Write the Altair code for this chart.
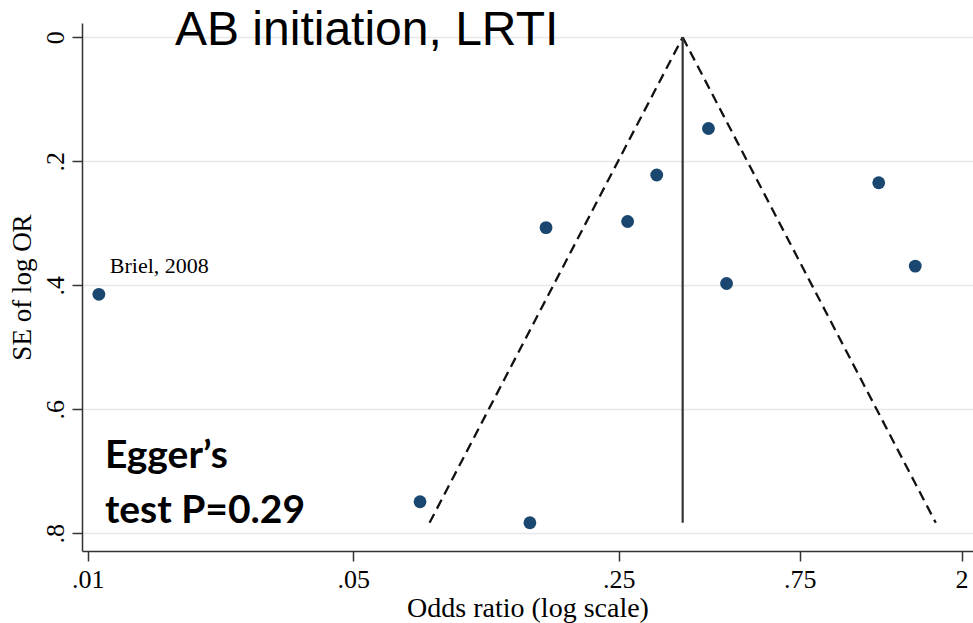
import json
import altair as alt
import numpy as np
import pandas as pd

# ---- data ----
study_label = ["Briel, 2008", "", "", "", "", "", "", "", "", ""]
odds_ratio = [0.0107, 0.0750, 0.146, 0.161, 0.264, 0.315, 0.431, 0.481, 1.21, 1.51]
se_log_or = [0.4145, 0.749, 0.783, 0.307, 0.297, 0.222, 0.147, 0.397, 0.2345, 0.369]

pooled_or = 0.3686
se_max = 0.783
z_crit = 1.96

x_ticks = [0.01, 0.05, 0.25, 0.75, 2]
x_tick_labels = [".01", ".05", ".25", ".75", "2"]
y_ticks = [0, 0.2, 0.4, 0.6, 0.8]
y_tick_labels = ["0", ".2", ".4", ".6", ".8"]
x_domain = [0.00966, 2.143]
y_domain = [-0.0231, 0.8285]

title_text = "AB initiation, LRTI"
egger_lines = ["Egger\u2019s", "test P=0.29"]
egger_x = [0.0111, 0.0111]
egger_se = [0.695, 0.783]

# ---- tables ----
studies = pd.DataFrame({"or": odds_ratio, "se": se_log_or, "label": study_label})

lo = float(np.exp(np.log(pooled_or) - z_crit * se_max))
hi = float(np.exp(np.log(pooled_or) + z_crit * se_max))
funnel = pd.DataFrame({
    "or": [lo, pooled_or, pooled_or, hi],
    "se": [se_max, 0.0, 0.0, se_max],
    "side": ["l", "l", "r", "r"],
    "ord": [0, 1, 0, 1],
})
center = pd.DataFrame({"or": [pooled_or], "se0": [0.0], "se1": [se_max]})
egger = pd.DataFrame({"or": egger_x, "se": egger_se, "t": egger_lines})

serif = "Liberation Serif"
axis_col = "#333333"

x_expr = f"{json.dumps(x_tick_labels)}[indexof({json.dumps(x_ticks)}, datum.value)]"
y_expr = f"{json.dumps(y_tick_labels)}[indexof({json.dumps(y_ticks)}, datum.value)]"

xs = alt.Scale(type="log", domain=x_domain, nice=False, zero=False)
ys = alt.Scale(domain=y_domain, reverse=True, nice=False, zero=False)

x_axis = alt.Axis(
    values=x_ticks, labelExpr=x_expr, title="Odds ratio (log scale)", grid=False,
    tickSize=10, tickColor=axis_col, domainColor=axis_col, tickWidth=1.5, domainWidth=1.5,
    labelFont=serif, labelFontSize=26, labelColor="black", labelPadding=5,
    titleFont=serif, titleFontSize=28, titleFontWeight="normal", titleColor="black",
    titleBaseline="middle", titleY=57, labelFlush=False, labelOverlap=False,
)
y_axis = alt.Axis(
    values=y_ticks, labelExpr=y_expr, title="SE of log OR", grid=True,
    gridColor="#e8e8e8", gridWidth=1.5,
    tickSize=10, tickColor=axis_col, domainColor=axis_col, tickWidth=1.5, domainWidth=1.5,
    labelFont=serif, labelFontSize=26, labelColor="black", labelAngle=270,
    labelAlign="center", labelBaseline="alphabetic", labelPadding=9,
    labelFlush=False, labelOverlap=False,
    titleFont=serif, titleFontSize=27, titleFontWeight="normal", titleColor="black",
    titleAngle=270, titleAlign="center", titleBaseline="middle", titleX=-60, titleY=264,
)

base_x = alt.X("or:Q", scale=xs, axis=x_axis)
base_y = alt.Y("se:Q", scale=ys, axis=y_axis)

funnel_lines = alt.Chart(funnel).mark_line(
    color="#111111", strokeWidth=2.3, strokeDash=[10, 6]
).encode(x=base_x, y=base_y, detail="side:N", order="ord:Q")

center_line = alt.Chart(center).mark_rule(color="#333333", strokeWidth=2.2).encode(
    x=alt.X("or:Q", scale=xs), y=alt.Y("se0:Q", scale=ys), y2="se1:Q"
)

points = alt.Chart(studies).mark_circle(size=165, opacity=1, color="#1a476f").encode(
    x=base_x, y=base_y
)

labels = alt.Chart(studies).mark_text(
    font=serif, fontSize=22, align="left", baseline="alphabetic", dx=11, dy=-21, color="black"
).encode(x=alt.X("or:Q", scale=xs), y=alt.Y("se:Q", scale=ys), text="label:N")

egger_text = alt.Chart(egger).mark_text(
    font="Lato", fontSize=39, fontWeight="bold", align="left", baseline="alphabetic", color="black"
).encode(x=alt.X("or:Q", scale=xs), y=alt.Y("se:Q", scale=ys), text="t:N")

title_mark = alt.Chart(pd.DataFrame({"t": [title_text]})).mark_text(
    font="Liberation Sans", fontSize=48, align="left", baseline="alphabetic", color="black"
).encode(x=alt.value(93), y=alt.value(21.5), text="t:N")

chart = alt.layer(
    funnel_lines, center_line, points, labels, egger_text, title_mark
).properties(
    width=891, height=528,
    autosize=alt.AutoSizeParams(type="none"),
    padding={"left": 82, "top": 23, "right": 0, "bottom": 72},
    background="white",
).configure_view(stroke=None)

chart.save("out.html", embed_options={"renderer": "svg", "actions": False})
